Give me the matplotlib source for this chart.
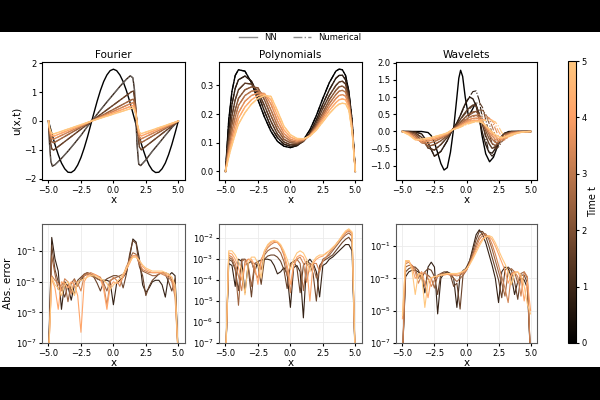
import numpy as np
import matplotlib.pyplot as plt
from matplotlib import colors
from matplotlib.lines import Line2D
from matplotlib.patches import Rectangle

# ---------------- data ----------------
t_four = [0, 0.83, 1.67, 2.5, 3.33, 4.17, 5.0]
t_poly = [0, 0.71, 1.43, 2.14, 2.86, 3.57, 4.29, 5.0]
t_err = [0.83, 1.67, 2.5, 3.33, 4.17, 5.0]

# Fourier, t=0
four0_x = [-5, -4.75, -4.5, -4.25, -4, -3.75, -3.5, -3.25, -3, -2.75, -2.5, -2.25, -2, -1.75,
           -1.5, -1.25, -1, -0.75, -0.5, -0.25, 0, 0.25, 0.5, 0.75, 1, 1.25, 1.5, 1.75, 2,
           2.25, 2.5, 2.75, 3, 3.25, 3.5, 3.75, 4, 4.25, 4.5, 4.75, 5]
four0_y = [0, -0.42, -0.82, -1.17, -1.46, -1.66, -1.78, -1.79, -1.71, -1.53, -1.27, -0.94,
           -0.56, -0.14, 0.28, 0.69, 1.06, 1.37, 1.60, 1.75, 1.80, 1.75, 1.60, 1.37, 1.06,
           0.69, 0.28, -0.14, -0.56, -0.94, -1.27, -1.53, -1.71, -1.79, -1.78, -1.66, -1.46,
           -1.17, -0.82, -0.42, 0]
# Fourier, first step after t=0
four1_x = [-5, -4.92, -4.82, -4.7, -4.5, -4, -3.5, -3, -2.5, -2, -1.67, -1, -0.5, 0, 0.5, 1,
           1.3, 1.5, 1.62, 1.72, 1.82, 1.95, 2.1, 2.5, 3, 3.5, 4, 4.5, 5]
four1_y = [0, -0.8, -1.4, -1.57, -1.52, -1.3, -1.05, -0.78, -0.5, -0.19, 0, 0.38, 0.66, 0.93,
           1.2, 1.45, 1.57, 1.5, 1.1, 0.2, -0.8, -1.5, -1.55, -1.35, -1.05, -0.78, -0.5, -0.23, 0]
# Fourier, later times
four_late_x = [-5, -4.9, -4.75, -4.6, -1.67, 1.4, 1.55, 1.7, 1.85, 2.0, 2.15, 5]
four_late_y = [
    [0, -0.6, -0.97, -1.01, 0, 1.02, 1.04, 0.6, -0.3, -0.9, -1.0, 0],
    [0, -0.45, -0.72, -0.76, 0, 0.74, 0.76, 0.45, -0.2, -0.66, -0.75, 0],
    [0, -0.38, -0.6, -0.63, 0, 0.62, 0.64, 0.38, -0.17, -0.55, -0.62, 0],
    [0, -0.32, -0.5, -0.53, 0, 0.52, 0.54, 0.32, -0.14, -0.46, -0.52, 0],
    [0, -0.27, -0.43, -0.45, 0, 0.44, 0.46, 0.27, -0.12, -0.39, -0.44, 0],
]

# Polynomials
poly_x = [-5, -4.75, -4.5, -4.25, -4, -3.5, -3, -2.5, -2, -1.5, -1, -0.5, 0, 0.5, 1, 1.5, 2,
          2.5, 3, 3.5, 3.75, 4, 4.25, 4.5, 4.75, 5]
poly_y = [
    [0, .18, .28, .335, .355, .35, .31, .25, .19, .14, .105, .088, .083, .09, .11, .145, .195, .255, .31, .35, .357, .355, .335, .28, .18, 0],
    [0, .14, .235, .29, .32, .333, .315, .27, .21, .155, .118, .095, .088, .09, .105, .135, .18, .235, .285, .325, .335, .336, .32, .27, .17, 0],
    [0, .115, .195, .25, .285, .308, .305, .28, .23, .175, .13, .103, .093, .094, .105, .13, .17, .22, .265, .3, .312, .315, .305, .26, .165, 0],
    [0, .095, .165, .215, .255, .285, .295, .292, .25, .195, .145, .112, .1, .098, .107, .128, .162, .205, .25, .283, .295, .298, .29, .25, .16, 0],
    [0, .08, .14, .19, .23, .265, .28, .283, .265, .215, .16, .122, .106, .102, .109, .126, .157, .195, .237, .268, .28, .283, .277, .242, .155, 0],
    [0, .068, .12, .165, .205, .245, .265, .274, .272, .235, .177, .133, .112, .106, .11, .125, .152, .187, .225, .254, .265, .268, .263, .233, .15, 0],
    [0, .058, .105, .145, .185, .225, .25, .265, .27, .25, .195, .145, .12, .11, .112, .124, .148, .18, .213, .24, .25, .253, .25, .224, .145, 0],
    [0, .05, .092, .13, .165, .205, .235, .255, .265, .262, .212, .158, .128, .115, .114, .123, .144, .173, .202, .226, .235, .238, .236, .214, .14, 0],
]

# Wavelets, t=0
wav0_x = [-5, -3.5, -3.0, -2.75, -2.5, -2.25, -2.0, -1.75, -1.5, -1.25, -1.0, -0.75, -0.6,
          -0.46, -0.3, -0.1, 0.15, 0.4, 0.7, 0.95, 1.2, 1.5, 1.8, 2.1, 2.4, 2.7, 3.0, 3.3, 5]
wav0_y = [0, 0, -0.03, -0.12, -0.32, -0.62, -0.93, -1.12, -1.05, -0.6, 0.1, 1.0, 1.55, 1.78,
          1.6, 1.0, 0.45, 0.6, 0.82, 0.55, -0.1, -0.65, -0.88, -0.75, -0.45, -0.2, -0.06, 0, 0]
# Wavelets, later times: left part shared by NN and numerical
wav_left_x = [-5, -4.5, -4, -3.5, -3, -2.5, -2, -1.5, -1.1]
wav_left_y = [
    [0, 0, -0.01, -0.07, -0.33, -0.72, -0.58, -0.27, 0.05],
    [0, -0.01, -0.04, -0.17, -0.48, -0.54, -0.38, -0.17, 0.05],
    [0, -0.02, -0.08, -0.26, -0.43, -0.38, -0.27, -0.12, 0.05],
    [0, -0.03, -0.13, -0.33, -0.35, -0.29, -0.2, -0.09, 0.05],
    [0, -0.05, -0.19, -0.31, -0.28, -0.23, -0.16, -0.07, 0.05],
    [0, -0.07, -0.23, -0.26, -0.23, -0.19, -0.13, -0.05, 0.05],
    [0, -0.1, -0.24, -0.22, -0.19, -0.15, -0.1, -0.04, 0.05],
]
wav_right_x = [-0.75, -0.5, -0.25, 0, 0.25, 0.5, 0.75, 1, 1.25, 1.5, 1.75, 2, 2.25, 2.5,
               2.75, 3, 3.5, 4, 4.5, 5]
wav_nn_right = [
    [0.25, 0.45, 0.68, 0.88, 1.0, 0.95, 0.75, 0.35, -0.05, -0.38, -0.6, -0.63, -0.5, -0.3, -0.13, -0.04, 0, 0, 0, 0],
    [0.2, 0.34, 0.48, 0.6, 0.7, 0.77, 0.74, 0.5, 0.18, -0.12, -0.35, -0.49, -0.45, -0.3, -0.15, -0.06, -0.01, 0, 0, 0],
    [0.16, 0.26, 0.36, 0.45, 0.52, 0.57, 0.58, 0.47, 0.25, 0.02, -0.2, -0.35, -0.41, -0.32, -0.18, -0.08, -0.02, 0, 0, 0],
    [0.13, 0.21, 0.29, 0.36, 0.42, 0.46, 0.47, 0.42, 0.28, 0.1, -0.08, -0.22, -0.32, -0.31, -0.21, -0.11, -0.03, -0.01, 0, 0],
    [0.11, 0.18, 0.24, 0.3, 0.35, 0.38, 0.39, 0.37, 0.28, 0.14, -0.01, -0.13, -0.23, -0.27, -0.22, -0.14, -0.05, -0.02, -0.01, 0],
    [0.1, 0.15, 0.2, 0.25, 0.29, 0.32, 0.33, 0.32, 0.26, 0.16, 0.05, -0.06, -0.15, -0.21, -0.21, -0.16, -0.07, -0.03, -0.01, 0],
    [0.09, 0.13, 0.18, 0.22, 0.25, 0.28, 0.29, 0.28, 0.25, 0.17, 0.08, -0.01, -0.09, -0.15, -0.18, -0.16, -0.09, -0.04, -0.01, 0],
]
wav_num_right = [
    [0.25, 0.45, 0.65, 0.85, 1.02, 1.16, 1.18, 0.9, 0.35, -0.2, -0.6, -0.72, -0.6, -0.35, -0.15, -0.05, 0, 0, 0, 0],
    [0.2, 0.33, 0.45, 0.56, 0.66, 0.75, 0.82, 0.85, 0.7, 0.35, -0.05, -0.35, -0.5, -0.45, -0.3, -0.15, -0.03, 0, 0, 0],
    [0.16, 0.25, 0.33, 0.41, 0.48, 0.54, 0.59, 0.62, 0.62, 0.5, 0.25, -0.05, -0.3, -0.38, -0.3, -0.18, -0.05, -0.01, 0, 0],
    [0.13, 0.2, 0.27, 0.33, 0.38, 0.43, 0.47, 0.49, 0.5, 0.48, 0.38, 0.15, -0.12, -0.28, -0.3, -0.22, -0.07, -0.02, 0, 0],
    [0.11, 0.17, 0.22, 0.27, 0.31, 0.35, 0.38, 0.4, 0.42, 0.42, 0.4, 0.3, 0.08, -0.15, -0.25, -0.24, -0.1, -0.03, -0.01, 0],
    [0.1, 0.14, 0.19, 0.23, 0.26, 0.29, 0.32, 0.34, 0.35, 0.36, 0.36, 0.33, 0.2, 0.0, -0.15, -0.2, -0.12, -0.04, -0.01, 0],
    [0.09, 0.12, 0.16, 0.2, 0.23, 0.26, 0.28, 0.3, 0.31, 0.32, 0.32, 0.32, 0.28, 0.15, -0.03, -0.13, -0.13, -0.05, -0.01, 0],
]

# absolute errors, log10 values on x = -5..5 step 0.25
err_x = four0_x
four_err = [
    [-8, -0.1, -1.5, -2.3, -4.8, -3.0, -3.3, -4.2, -3.2, -3.0, -2.9, -2.6, -2.5, -2.5, -2.6, -2.8, -2.9, -2.9, -2.9, -3.0, -4.5, -3.1, -2.9, -2.7, -2.4, -1.4, -0.2, -0.4, -1.5, -3.2, -3.7, -3.4, -3.0, -2.9, -2.9, -3.2, -4.0, -2.6, -2.4, -2.6, -8],
    [-8, -0.6, -2.2, -3.0, -3.4, -4.0, -3.2, -3.5, -3.8, -2.9, -2.7, -2.5, -2.4, -2.5, -2.7, -3.1, -3.6, -3.0, -2.8, -2.7, -2.6, -2.6, -2.7, -3.4, -2.5, -1.2, -0.3, -0.5, -2.0, -2.6, -3.9, -3.3, -2.9, -2.7, -2.5, -2.4, -2.5, -3.0, -3.6, -2.8, -8],
    [-8, -1.3, -2.5, -3.5, -3.2, -3.0, -4.3, -3.1, -2.8, -3.3, -2.8, -2.5, -2.4, -2.6, -2.7, -2.8, -2.9, -3.1, -3.6, -2.9, -2.8, -2.7, -2.6, -2.5, -2.2, -1.5, -1.1, -1.2, -1.9, -2.3, -2.4, -2.5, -2.6, -2.6, -2.5, -2.4, -2.4, -2.5, -2.9, -3.5, -8],
    [-8, -2.6, -2.9, -3.1, -3.6, -2.8, -3.0, -3.8, -2.9, -3.1, -3.6, -2.6, -2.5, -2.4, -2.5, -2.6, -2.7, -3.2, -4.5, -3.0, -2.7, -2.9, -3.3, -2.6, -2.0, -1.6, -1.3, -1.3, -1.8, -2.2, -2.3, -2.4, -2.4, -2.4, -2.4, -2.5, -2.6, -2.7, -3.0, -4.0, -8],
    [-8, -2.8, -3.4, -4.8, -3.0, -3.1, -3.4, -3.0, -3.2, -3.9, -6.3, -3.0, -2.6, -2.5, -2.5, -2.6, -2.8, -3.5, -4.8, -3.3, -3.0, -3.1, -3.0, -2.7, -2.2, -1.8, -1.3, -1.3, -1.6, -2.0, -2.2, -2.3, -2.4, -2.4, -2.4, -2.4, -2.5, -2.6, -2.7, -3.6, -8],
    [-8, -2.7, -3.2, -3.4, -3.9, -3.2, -3.0, -3.3, -3.9, -3.0, -2.9, -2.8, -2.7, -2.6, -2.6, -2.7, -2.8, -2.9, -3.1, -3.5, -3.2, -3.0, -2.8, -2.5, -2.1, -1.7, -1.4, -1.4, -1.6, -1.9, -2.1, -2.2, -2.3, -2.3, -2.3, -2.3, -2.4, -2.5, -2.7, -3.2, -8],
]
poly_err = [
    [-8, -3.2, -3.3, -4.3, -3.0, -3.1, -4.6, -3.2, -3.1, -3.6, -3.1, -3.05, -3.0, -3.0, -3.05, -3.3, -3.7, -3.6, -3.4, -3.7, -5.3, -3.4, -3.3, -3.6, -5.8, -3.2, -3.0, -3.2, -3.6, -4.8, -3.3, -3.2, -3.0, -2.9, -2.75, -2.6, -2.45, -2.3, -2.3, -2.6, -8],
    [-8, -3.0, -3.1, -3.5, -4.5, -3.0, -3.0, -3.4, -4.8, -3.2, -3.3, -4.2, -3.0, -2.85, -2.8, -2.8, -2.9, -3.1, -3.5, -4.4, -3.2, -3.1, -3.4, -4.6, -3.3, -3.1, -3.2, -3.7, -5.0, -3.3, -3.1, -3.0, -2.9, -2.8, -2.6, -2.4, -2.2, -2.05, -1.95, -2.2, -8],
    [-8, -2.9, -3.0, -3.4, -5.2, -3.1, -3.0, -3.3, -4.3, -3.2, -3.1, -3.5, -2.8, -2.6, -2.5, -2.45, -2.5, -2.7, -3.1, -3.8, -3.3, -3.1, -3.0, -3.2, -4.5, -3.3, -3.2, -3.3, -3.9, -3.5, -3.0, -2.9, -2.8, -2.6, -2.4, -2.2, -2.0, -1.85, -1.75, -1.9, -8],
    [-8, -2.8, -2.9, -3.2, -3.8, -4.5, -3.1, -3.0, -3.1, -3.6, -3.9, -3.0, -2.7, -2.45, -2.3, -2.2, -2.2, -2.4, -2.8, -3.5, -4.6, -3.3, -3.0, -2.9, -3.2, -4.1, -3.3, -3.2, -3.2, -3.6, -3.1, -2.9, -2.7, -2.5, -2.3, -2.1, -1.9, -1.75, -1.65, -1.8, -8],
    [-8, -2.7, -2.75, -3.0, -3.4, -4.0, -3.3, -3.0, -3.0, -3.3, -4.2, -3.1, -2.6, -2.35, -2.2, -2.15, -2.2, -2.35, -2.7, -3.3, -4.2, -3.3, -2.9, -2.8, -2.9, -3.3, -5.0, -3.2, -3.0, -2.9, -2.85, -2.7, -2.6, -2.45, -2.3, -2.1, -1.9, -1.7, -1.6, -1.75, -8],
    [-8, -2.6, -2.6, -2.8, -3.1, -3.5, -4.7, -3.2, -2.9, -2.9, -3.2, -3.9, -2.6, -2.3, -2.15, -2.1, -2.15, -2.3, -2.6, -3.0, -3.5, -3.0, -2.7, -2.6, -2.7, -3.0, -3.6, -3.1, -2.9, -2.8, -2.8, -2.75, -2.6, -2.45, -2.3, -2.1, -1.85, -1.65, -1.55, -1.7, -8],
]
wav_err = [
    [-8, -2.9, -2.6, -2.5, -2.5, -2.6, -2.9, -3.9, -2.3, -2.0, -2.3, -5.2, -3.0, -2.7, -2.6, -2.7, -3.0, -4.8, -2.8, -2.5, -2.4, -1.9, -1.1, -0.3, 0.0, -0.3, -0.8, -1.5, -2.2, -3.0, -4.5, -2.6, -2.3, -2.4, -2.9, -4.0, -3.2, -3.0, -3.1, -3.6, -8],
    [-8, -2.6, -2.4, -2.3, -2.3, -2.5, -3.0, -2.6, -2.4, -2.5, -2.9, -4.0, -2.7, -2.6, -2.6, -2.8, -3.5, -3.3, -4.9, -2.6, -2.3, -1.9, -1.3, -0.6, -0.1, -0.1, -0.4, -1.0, -1.7, -2.4, -3.1, -4.2, -2.5, -2.3, -2.5, -3.2, -4.3, -2.8, -2.8, -3.3, -8],
    [-8, -2.3, -2.2, -2.2, -2.4, -3.0, -2.6, -3.5, -2.8, -3.0, -3.6, -2.8, -2.7, -2.7, -2.7, -2.8, -3.0, -3.2, -3.0, -2.8, -2.5, -2.0, -1.5, -0.9, -0.4, -0.2, -0.25, -0.6, -1.2, -1.9, -2.6, -3.3, -4.1, -2.6, -2.4, -2.6, -3.3, -2.7, -2.6, -3.0, -8],
    [-8, -2.1, -2.0, -2.2, -2.6, -3.3, -2.8, -2.6, -3.0, -3.5, -3.1, -2.9, -2.8, -2.75, -2.75, -2.8, -2.8, -2.85, -2.8, -2.7, -2.5, -2.1, -1.6, -1.1, -0.6, -0.35, -0.3, -0.45, -0.9, -1.5, -2.2, -2.9, -3.6, -4.5, -2.7, -2.6, -2.9, -4.1, -2.6, -2.9, -8],
    [-5.5, -2.0, -1.9, -2.3, -3.0, -2.8, -2.6, -3.3, -4.2, -3.0, -2.9, -2.85, -2.8, -2.8, -2.75, -2.75, -2.75, -2.75, -2.7, -2.6, -2.45, -2.1, -1.7, -1.25, -0.85, -0.55, -0.4, -0.4, -0.6, -1.0, -1.5, -2.0, -2.5, -3.3, -2.8, -2.6, -2.6, -3.0, -4.4, -3.2, -5.0],
    [-5.3, -1.9, -1.9, -2.5, -4.0, -2.7, -2.8, -4.8, -3.2, -2.95, -2.9, -2.85, -2.8, -2.75, -2.7, -2.7, -2.7, -2.7, -2.65, -2.55, -2.4, -2.15, -1.8, -1.4, -1.0, -0.65, -0.45, -0.35, -0.45, -0.8, -1.25, -1.7, -2.1, -2.6, -3.4, -2.7, -2.6, -2.8, -3.5, -4.6, -5.2],
]

# ---------------- figure ----------------
cmap = plt.get_cmap("copper")
norm = colors.Normalize(0, 5)

fig = plt.figure(figsize=(6, 4), dpi=100, facecolor="black")
fig.patches.append(Rectangle((0, 0.0825), 1, 0.8375, transform=fig.transFigure,
                             facecolor="white", edgecolor="none", zorder=-10))

lefts = [0.07, 0.365, 0.66]
widths = [0.238, 0.238, 0.235]
top_axes = [fig.add_axes([lefts[i], 0.55, widths[i], 0.295]) for i in range(3)]
bot_axes = [fig.add_axes([lefts[i], 0.1425, widths[i], 0.2975]) for i in range(3)]

lw = 1.0
# Fourier
ax = top_axes[0]
ax.plot(four0_x, four0_y, color=cmap(norm(t_four[0])), lw=lw)
ax.plot(four1_x, four1_y, color=cmap(norm(t_four[1])), lw=lw)
ax.plot(four1_x, four1_y, color="0.5", lw=0.8, ls="-.", alpha=0.7)
for k, ys in enumerate(four_late_y):
    c = cmap(norm(t_four[k + 2]))
    ax.plot(four_late_x, ys, color=c, lw=lw)
    ax.plot(four_late_x, ys, color=c, lw=0.8, ls="-.")
ax.set_ylim(-2.05, 2.05)

# Polynomials
ax = top_axes[1]
for k, ys in enumerate(poly_y):
    c = cmap(norm(t_poly[k]))
    ax.plot(poly_x, ys, color=c, lw=lw)
    ax.plot(poly_x, ys, color=c, lw=0.8, ls="-.")
ax.set_ylim(-0.03, 0.382)

# Wavelets
ax = top_axes[2]
ax.plot(wav0_x, wav0_y, color=cmap(norm(t_poly[0])), lw=lw)
for k in range(len(wav_left_y)):
    c = cmap(norm(t_poly[k + 1]))
    ax.plot(wav_left_x + wav_right_x, wav_left_y[k] + wav_nn_right[k], color=c, lw=lw)
    ax.plot(wav_left_x + wav_right_x, wav_left_y[k] + wav_num_right[k], color=c, lw=0.8, ls="-.")
ax.set_ylim(-1.41, 2.02)

for ax, title in zip(top_axes, ["Fourier", "Polynomials", "Wavelets"]):
    ax.set_title(title, fontsize=7.5, pad=3)
top_axes[0].set_ylabel("u(x,t)", fontsize=7.5, labelpad=2)

# errors
for ax, errs, ylim in zip(bot_axes, [four_err, poly_err, wav_err],
                          [(1e-7, 6), (1e-7, 0.048), (1e-7, 2.3)]):
    for k, le in enumerate(errs):
        ax.plot(err_x, 10.0 ** np.array(le), color=cmap(norm(t_err[k])), lw=0.8)
    ax.set_yscale("log")
    ax.set_ylim(*ylim)
    ax.grid(True, color="0.92", lw=0.6)
    ax.set_axisbelow(True)
    for s in ax.spines.values():
        s.set_color("0.35")
bot_axes[0].set_yticks([1e-7, 1e-5, 1e-3, 1e-1])
bot_axes[1].set_yticks([1e-7, 1e-6, 1e-5, 1e-4, 1e-3, 1e-2])
bot_axes[2].set_yticks([1e-7, 1e-5, 1e-3, 1e-1])
bot_axes[0].set_ylabel("Abs. error", fontsize=7.5, labelpad=2)

for ax in top_axes + bot_axes:
    ax.set_xlim(-5.5, 5.5)
    ax.set_xticks([-5, -2.5, 0, 2.5, 5])
    ax.tick_params(labelsize=6, length=2.5, pad=1.5)
    ax.tick_params(which="minor", length=0)
    ax.set_xlabel("x", fontsize=7.5, labelpad=0)

# colorbar
cax = fig.add_axes([0.947, 0.1425, 0.0133, 0.705])
sm = plt.cm.ScalarMappable(cmap=cmap, norm=norm)
cb = fig.colorbar(sm, cax=cax, ticks=[0, 1, 2, 3, 4, 5])
cb.ax.tick_params(labelsize=6, length=2.5, pad=1.5)
cb.set_label("Time t", fontsize=7, labelpad=1)

# legend
handles = [Line2D([], [], color="0.55", lw=1.0, ls="-"),
           Line2D([], [], color="0.55", lw=1.0, ls="-.")]
fig.legend(handles, ["NN", "Numerical"], loc="center", bbox_to_anchor=(0.5, 0.907),
           ncol=2, frameon=False, fontsize=6, handlelength=2.2, columnspacing=2.0)

fig.savefig("out.png", dpi=100, facecolor=fig.get_facecolor())
